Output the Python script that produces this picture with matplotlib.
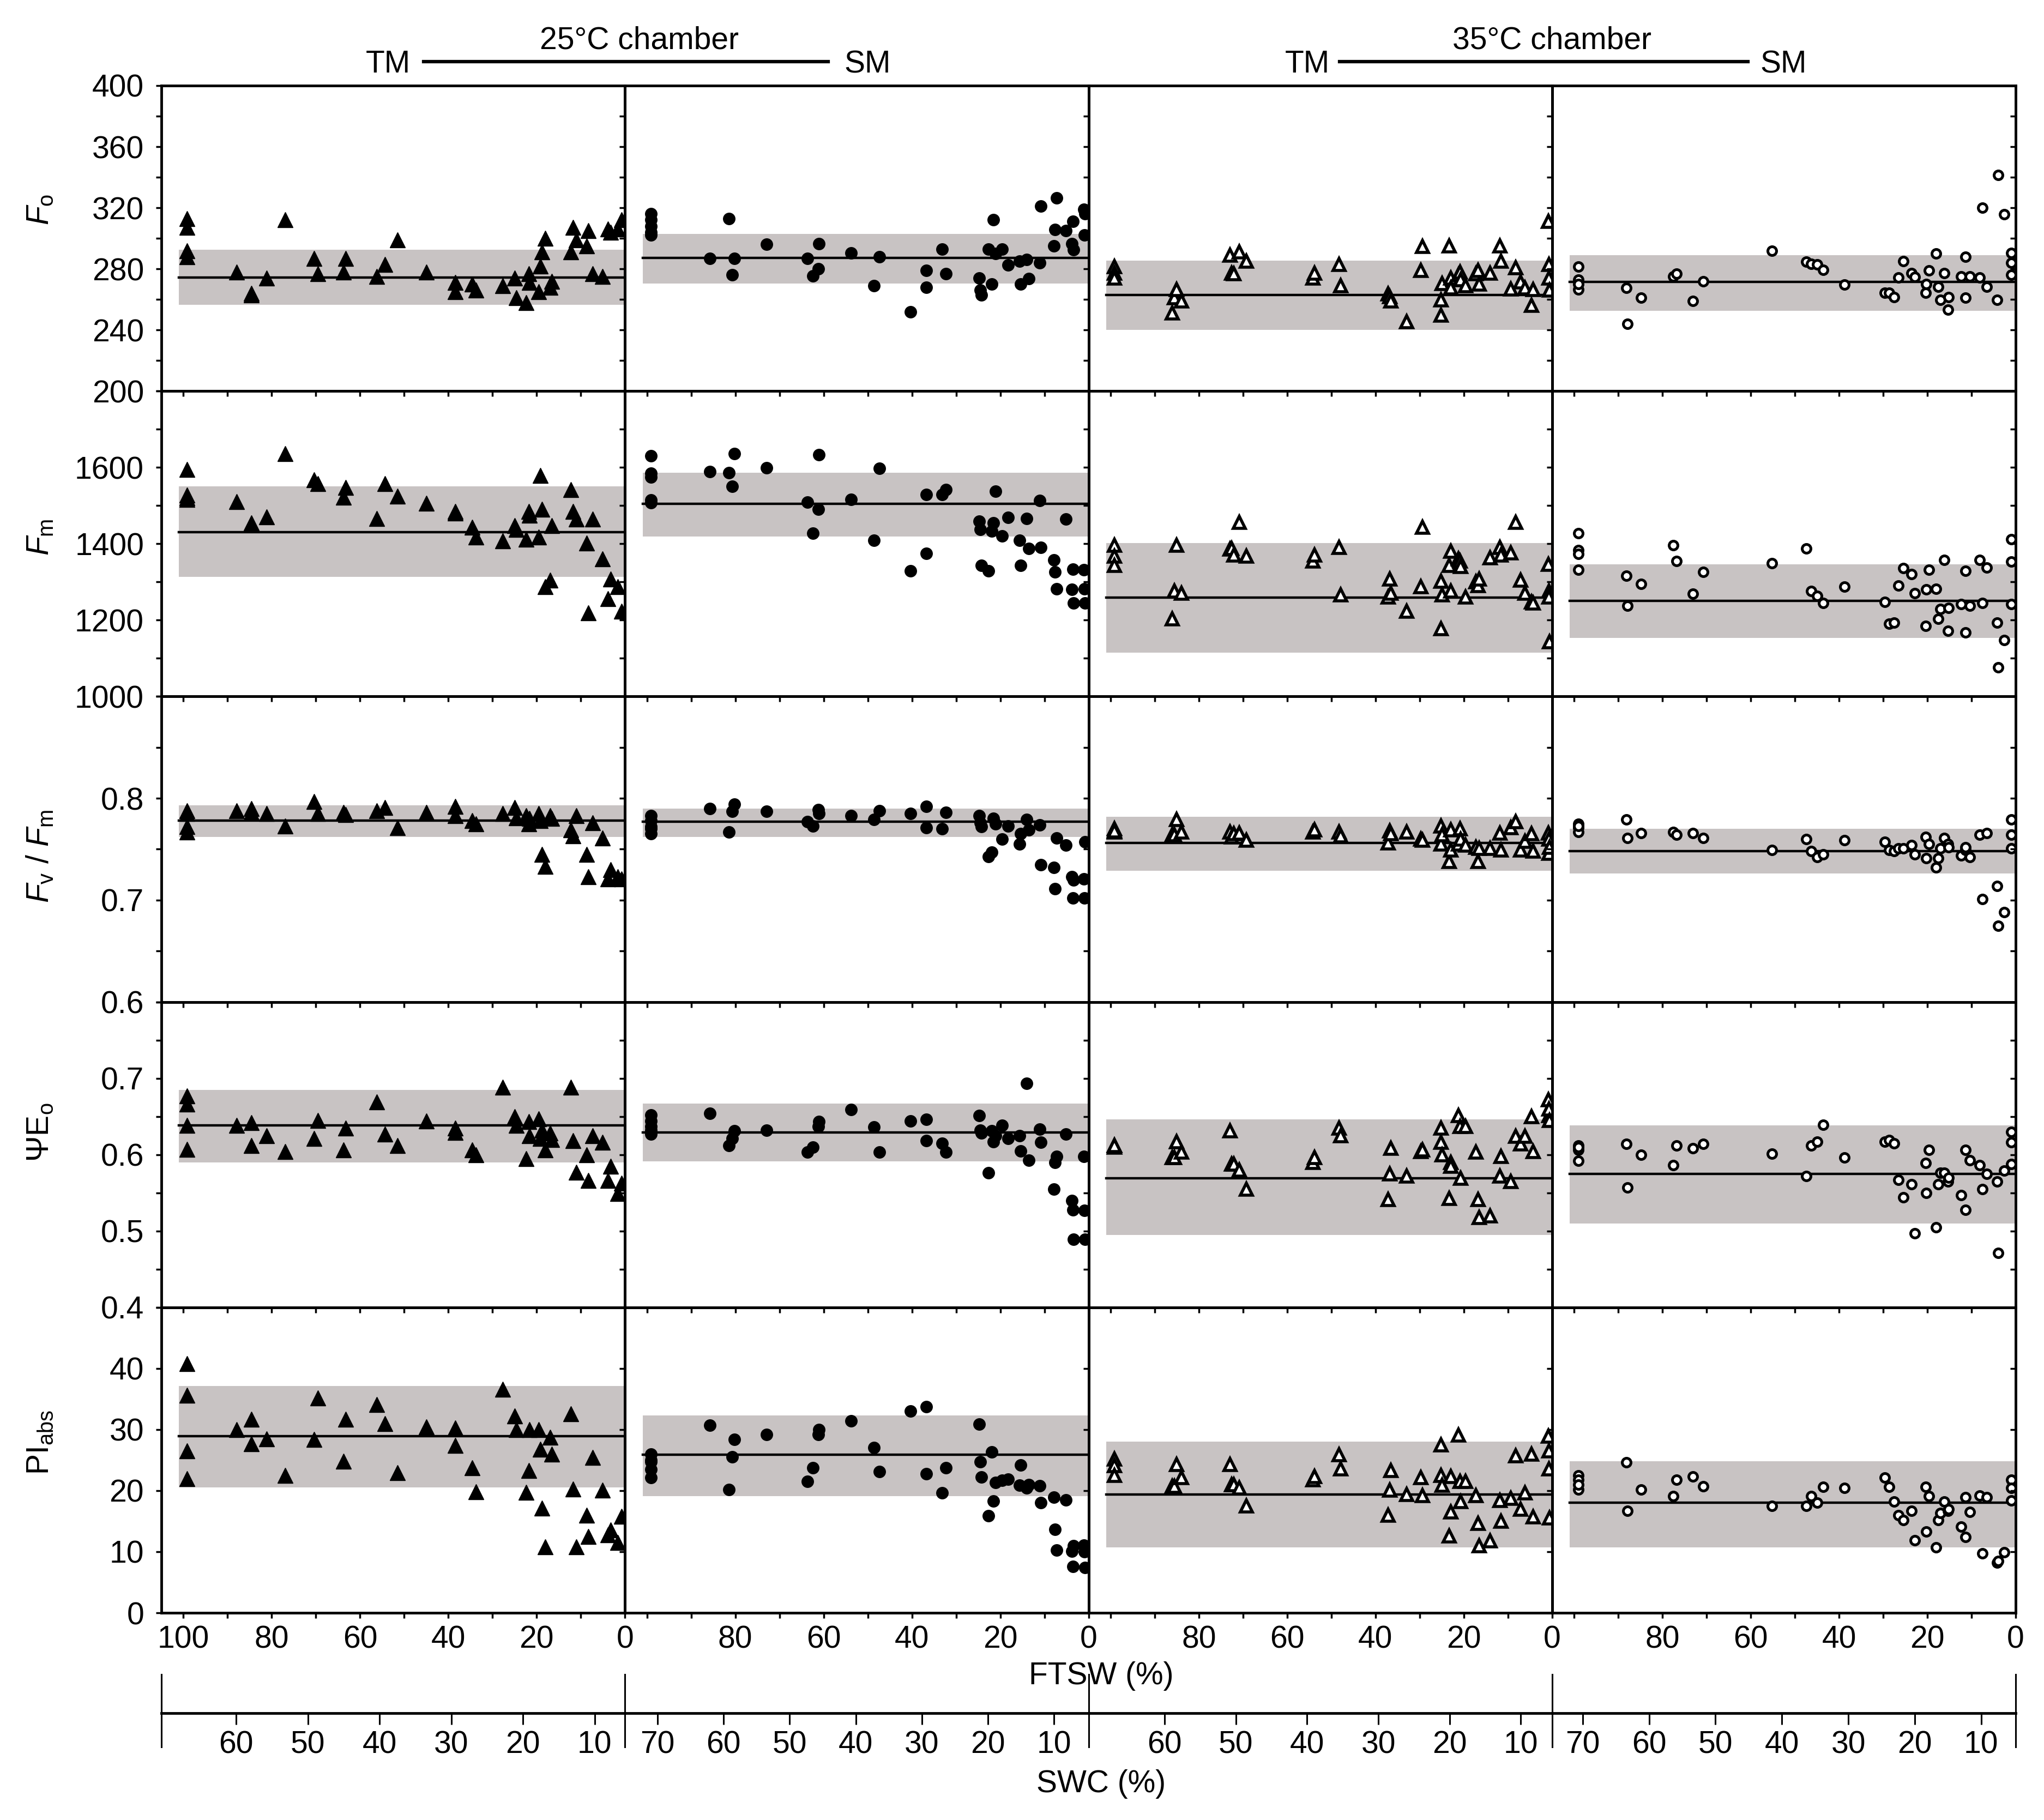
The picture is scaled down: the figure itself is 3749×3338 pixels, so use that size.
import numpy as np
import matplotlib
matplotlib.use('Agg')
import matplotlib.pyplot as plt
from matplotlib.ticker import MultipleLocator, FuncFormatter
from matplotlib.lines import Line2D

plt.rcParams['font.family'] = ['Liberation Sans', 'DejaVu Sans']
plt.rcParams['mathtext.fontset'] = 'custom'
plt.rcParams['mathtext.rm'] = 'Liberation Sans'
plt.rcParams['mathtext.it'] = 'Liberation Sans:italic'
plt.rcParams['mathtext.bf'] = 'Liberation Sans:bold'

# ---- data ----
# 25 C chamber, TM
ftsw_tm25 = [99.2, 99.2, 99.2, 99.2, 88, 84.6, 84.6, 81.2, 77, 70.4, 69.6, 63.8, 63.2, 56.2, 54.4, 51.5, 45,
             38.4, 38.4, 34.6, 33.8, 27.7, 25, 24.6, 22.4, 21.8, 21.6, 19.6, 19.2, 18.8, 18, 17, 16.6, 12.3,
             11.8, 11, 8.7, 8.3, 7.3, 5.1, 3.8, 3.2, 1.6, 0.8]
fo_tm25 = [313, 307, 292, 288, 278, 264, 263, 274, 312, 287, 277, 278, 287, 275, 283, 299, 278, 271, 265, 270,
           266, 269, 274, 261, 258, 277, 271, 265, 282, 291, 300, 268, 272, 291, 307, 299, 295, 305, 277, 275,
           306, 304, 306, 312]
fm_tm25 = [1594, 1527, 1516, 1520, 1511, 1451, 1455, 1471, 1636, 1568, 1558, 1522, 1548, 1466, 1558, 1525, 1506,
           1485, 1480, 1443, 1417, 1407, 1448, 1438, 1412, 1485, 1475, 1417, 1579, 1490, 1287, 1305, 1448, 1542,
           1485, 1464, 1402, 1219, 1464, 1360, 1256, 1308, 1287, 1224]
fvfm_tm25 = [0.788, 0.767, 0.785, 0.772, 0.788, 0.79, 0.786, 0.785, 0.773, 0.797, 0.785, 0.786, 0.784, 0.788,
             0.791, 0.771, 0.786, 0.792, 0.783, 0.778, 0.775, 0.785, 0.791, 0.781, 0.783, 0.775, 0.78, 0.785,
             0.778, 0.745, 0.733, 0.783, 0.78, 0.769, 0.763, 0.783, 0.745, 0.723, 0.776, 0.761, 0.721, 0.73,
             0.723, 0.721]
psi_tm25 = [0.677, 0.666, 0.638, 0.607, 0.638, 0.642, 0.612, 0.625, 0.604, 0.621, 0.645, 0.606, 0.635, 0.669,
            0.627, 0.612, 0.644, 0.635, 0.629, 0.606, 0.6, 0.688, 0.65, 0.638, 0.595, 0.643, 0.625, 0.647, 0.621,
            0.632, 0.606, 0.628, 0.62, 0.688, 0.618, 0.577, 0.6, 0.566, 0.625, 0.616, 0.566, 0.585, 0.549, 0.563]
pi_tm25 = [40.8, 35.6, 26.5, 22, 30, 31.7, 27.7, 28.5, 22.5, 28.4, 35.2, 24.8, 31.7, 34.1, 31, 22.9, 30.4, 30.3,
           27.4, 23.7, 19.8, 36.6, 32.2, 30, 19.7, 23.3, 30, 30, 26.8, 17.1, 10.8, 28.7, 26, 32.6, 20.3, 10.8,
           16, 12.5, 25.4, 20.1, 12.8, 13.6, 11.5, 15.8]

# 25 C chamber, SM
ftsw_sm25 = [99.1, 99.1, 99.1, 99.1, 99.1, 85.8, 81.4, 80.7, 80.2, 72.9, 63.7, 62.4, 61.2, 61.1, 53.8, 48.6,
             47.4, 40.3, 36.8, 36.8, 33.1, 32.3, 24.8, 24.5, 24.3, 22.6, 21.9, 21.5, 21.1, 19.6, 18.2, 15.6,
             15.4, 14, 13.5, 11, 10.8, 7.8, 7.6, 7.2, 5.1, 3.8, 3.5, 3.4, 1, 0.9, 0.8]
fo_sm25 = [316, 312, 308, 304, 302, 287, 313, 276, 287, 296, 287, 275.5, 280, 296.5, 290.5, 269, 288, 252, 279,
           268, 293, 277, 274, 266, 263, 293, 270, 312, 290, 293, 282.6, 285, 270, 286, 273.7, 284, 321, 295,
           305.6, 326.6, 305, 296.5, 311, 292.5, 319, 302, 316]
fm_sm25 = [1631, 1584, 1574, 1508, 1515, 1589, 1586, 1551, 1636, 1599, 1509, 1428, 1490, 1633, 1516, 1409, 1597,
           1329, 1529, 1375, 1529, 1542, 1459, 1438, 1344, 1329, 1433, 1454, 1537, 1420, 1469, 1409, 1344, 1466,
           1388, 1513, 1391, 1357, 1326, 1282, 1464, 1280, 1334, 1245, 1332, 1282, 1245]
fvfm_sm25 = [0.778, 0.765, 0.783, 0.772, 0.77, 0.79, 0.767, 0.787, 0.794, 0.787, 0.777, 0.773, 0.789, 0.785,
             0.783, 0.779, 0.788, 0.785, 0.792, 0.771, 0.77, 0.786, 0.783, 0.776, 0.772, 0.743, 0.747, 0.78,
             0.775, 0.76, 0.773, 0.755, 0.765, 0.779, 0.769, 0.774, 0.735, 0.732, 0.711, 0.761, 0.754, 0.723,
             0.702, 0.72, 0.721, 0.702, 0.757]
psi_sm25 = [0.652, 0.644, 0.637, 0.627, 0.632, 0.654, 0.612, 0.621, 0.631, 0.632, 0.603, 0.61, 0.637, 0.643,
            0.659, 0.636, 0.603, 0.644, 0.646, 0.618, 0.615, 0.603, 0.651, 0.632, 0.628, 0.576, 0.631, 0.617,
            0.625, 0.638, 0.621, 0.625, 0.605, 0.693, 0.593, 0.633, 0.616, 0.555, 0.59, 0.598, 0.627, 0.54,
            0.528, 0.489, 0.598, 0.527, 0.489]
pi_sm25 = [26, 24.7, 22.1, 25, 23.5, 30.7, 20.2, 25.5, 28.4, 29.2, 21.5, 23.7, 29.2, 30, 31.4, 27, 23.1, 33,
           33.7, 22.8, 19.6, 23.7, 30.9, 24.7, 22.2, 15.9, 26.3, 18.3, 21.3, 21.7, 21.9, 20.9, 24.2, 20.4, 21,
           20.8, 18, 18.9, 13.7, 10.3, 18.5, 10.1, 7.6, 11, 11.1, 10, 7.4]

# 35 C chamber, TM
ftsw_tm35 = [99.1, 99.1, 99.1, 86, 85.6, 85.1, 84, 73, 72.6, 72.1, 70.8, 69.3, 54.2, 53.8, 48.3, 47.9, 37.2,
             36.8, 36.5, 33, 29.7, 29.3, 25.2, 25.1, 24.9, 23.3, 22.9, 22.9, 21.2, 20.8, 20.7, 19.6, 17.2, 16.8,
             16.5, 14, 11.8, 11.6, 9.4, 8.2, 7.1, 6.1, 4.7, 4.3, 0.8, 0.7, 0.7, 0.6]
fo_tm35 = [281.5, 277.3, 274, 251, 261, 266.3, 259, 289, 277.3, 277, 291, 285, 274, 277.3, 283, 269, 263.7, 262,
           259, 245.4, 279, 294.6, 249.8, 259.7, 270.3, 295, 274, 267.6, 276, 278, 272.8, 269, 277, 279, 270,
           277.3, 295, 285, 267, 280.7, 271.6, 267.6, 256, 266.4, 311, 283, 274, 266]
fm_tm35 = [1396, 1367, 1344, 1203, 1276, 1396, 1271, 1386, 1388, 1370, 1456, 1367, 1355, 1370, 1391, 1266, 1261,
           1308, 1271, 1224, 1287, 1443, 1177, 1302, 1266, 1344, 1381, 1276, 1360, 1355, 1340, 1261, 1300, 1290,
           1308, 1363, 1391, 1370, 1376, 1456, 1305, 1271, 1248, 1245, 1346, 1276, 1261, 1144]
fvfm_tm35 = [0.77, 0.767, 0.768, 0.764, 0.764, 0.779, 0.767, 0.767, 0.762, 0.765, 0.766, 0.759, 0.767, 0.769,
             0.767, 0.763, 0.756, 0.768, 0.765, 0.767, 0.76, 0.759, 0.755, 0.773, 0.764, 0.738, 0.769, 0.749,
             0.755, 0.77, 0.76, 0.754, 0.752, 0.738, 0.751, 0.751, 0.766, 0.749, 0.771, 0.777, 0.749, 0.758,
             0.765, 0.748, 0.766, 0.746, 0.76, 0.752]
psi_tm35 = [0.612, 0.61, 0.612, 0.596, 0.596, 0.617, 0.603, 0.631, 0.588, 0.588, 0.58, 0.555, 0.59, 0.596,
            0.635, 0.625, 0.541, 0.575, 0.608, 0.572, 0.604, 0.606, 0.616, 0.635, 0.6, 0.543, 0.59, 0.585, 0.651,
            0.637, 0.569, 0.637, 0.603, 0.541, 0.518, 0.52, 0.572, 0.598, 0.565, 0.624, 0.614, 0.624, 0.65,
            0.604, 0.672, 0.651, 0.66, 0.645]
pi_tm35 = [25.2, 24.1, 22.5, 20.7, 20.7, 24.3, 22.1, 24.3, 21, 21, 20.4, 17.5, 21.8, 22.3, 25.9, 23.6, 16, 20.1,
           23.3, 19.4, 22.1, 19.2, 22.5, 27.5, 20.9, 12.6, 22.3, 16.5, 29.1, 21.5, 18.2, 21.5, 19.2, 14.6, 11,
           11.8, 18.4, 15, 18.7, 25.7, 17, 19.6, 26, 15.7, 28.9, 26.5, 23.6, 15.5]

# 35 C chamber, SM
ftsw_sm35 = [99, 99, 99, 99, 88.2, 87.9, 84.9, 77.6, 76.8, 73.1, 70.8, 55.2, 47.4, 46.3, 44.9, 43.6, 38.8, 29.6,
             28.6, 27.5, 26.5, 25.5, 23.6, 22.8, 20.4, 20.3, 19.6, 18, 17.5, 17, 16.2, 15.3, 15.2, 12.4, 11.3,
             11.3, 10.4, 8.1, 7.5, 6.6, 4.2, 3.9, 2.6, 1, 1, 1]
fo_sm35 = [281.5, 272.9, 266.3, 270, 267.6, 244, 261, 275, 276.8, 259, 272, 292, 284.7, 283.4, 283, 279.4, 269.7,
           264.5, 264.5, 261.6, 274.2, 285.2, 277.3, 274.7, 264.2, 270, 279, 290, 268.4, 259.8, 277.3, 253.2,
           261.6, 275, 287.8, 261, 275, 274.2, 320, 268.4, 259.8, 341.5, 315.6, 290.4, 284, 276]
fm_sm35 = [1427.6, 1384, 1373, 1332, 1316, 1238, 1295, 1396, 1355, 1269, 1326.5, 1349, 1388, 1276, 1264, 1245,
           1287, 1248, 1190, 1193, 1290, 1336, 1320, 1271, 1185, 1280, 1332, 1282, 1203, 1229, 1357, 1172, 1232,
           1242, 1329, 1167, 1238, 1357, 1245, 1337, 1193, 1076, 1148, 1412, 1353, 1242]
fvfm_sm35 = [0.775, 0.771, 0.767, 0.773, 0.779, 0.761, 0.766, 0.767, 0.764, 0.766, 0.761, 0.749, 0.76, 0.748,
             0.742, 0.745, 0.759, 0.757, 0.749, 0.748, 0.751, 0.751, 0.754, 0.745, 0.762, 0.741, 0.755, 0.732,
             0.741, 0.751, 0.761, 0.755, 0.752, 0.744, 0.749, 0.752, 0.742, 0.764, 0.701, 0.766, 0.714, 0.675,
             0.688, 0.779, 0.764, 0.751]
psi_sm35 = [0.612, 0.606, 0.592, 0.61, 0.614, 0.557, 0.6, 0.586, 0.612, 0.608, 0.614, 0.601, 0.572, 0.612,
            0.617, 0.639, 0.596, 0.617, 0.619, 0.615, 0.567, 0.544, 0.561, 0.497, 0.589, 0.55, 0.606, 0.505,
            0.561, 0.576, 0.576, 0.565, 0.57, 0.547, 0.606, 0.528, 0.593, 0.586, 0.555, 0.575, 0.565, 0.471,
            0.579, 0.63, 0.616, 0.588]
pi_sm35 = [22.5, 21.8, 20.2, 21, 24.6, 16.7, 20.2, 19.1, 21.8, 22.3, 20.7, 17.5, 17.5, 19.1, 18, 20.6, 20.4,
           22.1, 20.6, 18.2, 16, 15.2, 16.7, 11.9, 20.6, 13.3, 19.1, 10.7, 15.2, 16.3, 18.2, 16.7, 17, 14.1,
           18.9, 12.4, 16.5, 19.2, 9.7, 18.9, 8.2, 8.5, 9.9, 21.8, 20.4, 18.4]

# mean line and grey band (per panel column: TM25, SM25, TM35, SM35)
fo_mean = [274.5, 287.3, 262.9, 271.6]
fo_lo = [256.5, 270.3, 240, 252.7]
fo_hi = [292.5, 303, 285.5, 289]
fm_mean = [1431, 1504, 1259, 1250]
fm_lo = [1313, 1419, 1115, 1154]
fm_hi = [1550, 1586, 1402, 1346]
fvfm_mean = [0.778, 0.777, 0.756, 0.748]
fvfm_lo = [0.762, 0.762, 0.729, 0.726]
fvfm_hi = [0.793, 0.790, 0.782, 0.770]
psi_mean = [0.638, 0.629, 0.569, 0.575]
psi_lo = [0.590, 0.591, 0.495, 0.510]
psi_hi = [0.685, 0.667, 0.646, 0.638]
pi_mean = [28.9, 25.9, 19.4, 18.0]
pi_lo = [20.5, 19.1, 10.7, 10.7]
pi_hi = [37.1, 32.3, 28.0, 24.8]

# SWC scale under each column
swc_range = [(70.45, 5.76), (74.9, 4.8), (70.7, 5.6), (74.6, 4.8)]
swc_ticks = [[60, 50, 40, 30, 20, 10], [70, 60, 50, 40, 30, 20, 10],
             [60, 50, 40, 30, 20, 10], [70, 60, 50, 40, 30, 20, 10]]

# ---- layout (pixels of the 3749 x 3338 picture) ----
W, H = 3749, 3338
fig = plt.figure(figsize=(W / 100, H / 100), dpi=100)
fig.patch.set_facecolor('white')

def fx(px):
    return px / W

def fy(py):
    return 1 - py / H

left0, right0, top0, bot0 = 296, 3697, 157, 2958
colw = (right0 - left0) / 4
rowh = (bot0 - top0) / 5
FS = 41
band_col = '#c8c3c3'

columns = [
    dict(x=ftsw_tm25, ys=[fo_tm25, fm_tm25, fvfm_tm25, psi_tm25, pi_tm25], marker='^', ms=20, mfc='k', mew=1),
    dict(x=ftsw_sm25, ys=[fo_sm25, fm_sm25, fvfm_sm25, psi_sm25, pi_sm25], marker='o', ms=15.5, mfc='k', mew=1),
    dict(x=ftsw_tm35, ys=[fo_tm35, fm_tm35, fvfm_tm35, psi_tm35, pi_tm35], marker='^', ms=15.5, mfc='white', mew=4),
    dict(x=ftsw_sm35, ys=[fo_sm35, fm_sm35, fvfm_sm35, psi_sm35, pi_sm35], marker='o', ms=11.5, mfc='white', mew=3.6),
]

rows = [
    dict(ylim=(200, 400), step=20, labels=[200, 240, 280, 320, 360, 400], fmt='%d',
         mean=fo_mean, lo=fo_lo, hi=fo_hi, name=r'$\mathit{F}_\mathrm{o}$', ly=384),
    dict(ylim=(1000, 1800), step=100, labels=[1000, 1200, 1400, 1600], fmt='%d',
         mean=fm_mean, lo=fm_lo, hi=fm_hi, name=r'$\mathit{F}_\mathrm{m}$', ly=985),
    dict(ylim=(0.6, 0.9), step=0.05, labels=[0.6, 0.7, 0.8], fmt='%.1f',
         mean=fvfm_mean, lo=fvfm_lo, hi=fvfm_hi,
         name=r'$\mathit{F}_\mathrm{v}\ /\ \mathit{F}_\mathrm{m}$', ly=1570),
    dict(ylim=(0.4, 0.8), step=0.05, labels=[0.4, 0.5, 0.6, 0.7], fmt='%.1f',
         mean=psi_mean, lo=psi_lo, hi=psi_hi, name=r'$\Psi\mathrm{E}_\mathrm{o}$', ly=2077),
    dict(ylim=(0, 50), step=10, labels=[0, 10, 20, 30, 40], fmt='%d',
         mean=pi_mean, lo=pi_lo, hi=pi_hi, name=r'$\mathrm{PI}_\mathrm{abs}$', ly=2645),
]

def y_formatter(labels, fmt):
    def f(v, pos):
        for lab in labels:
            if np.isclose(v, lab):
                return fmt % lab
        return ''
    return FuncFormatter(f)

def x_formatter(first_col):
    def f(v, pos):
        iv = int(round(v))
        if iv % 20 != 0:
            return ''
        if iv == 100 and not first_col:
            return ''
        return str(iv)
    return FuncFormatter(f)

for r, row in enumerate(rows):
    for c, col in enumerate(columns):
        ax = fig.add_axes([fx(left0 + c * colw), fy(top0 + (r + 1) * rowh), colw / W, rowh / H])
        ax.set_facecolor('none')
        ax.set_xlim(105, 0)
        ax.set_ylim(*row['ylim'])
        for s in ax.spines.values():
            s.set_linewidth(3.5)

        ax.fill_between([101, 0], row['lo'][c], row['hi'][c], color=band_col, lw=0, zorder=1)
        ax.plot([101, 0], [row['mean'][c], row['mean'][c]], color='k', lw=3.2, zorder=2)
        ax.plot(col['x'], col['ys'][r], linestyle='none', marker=col['marker'], ms=col['ms'],
                mfc=col['mfc'], mec='k', mew=col['mew'], zorder=3)

        ax.xaxis.set_major_locator(MultipleLocator(10))
        ax.yaxis.set_major_locator(MultipleLocator(row['step']))
        ax.tick_params(axis='x', direction='out', length=7, width=2.5, top=False,
                       labelsize=FS, pad=9)
        ax.tick_params(axis='y', direction='out', length=7, width=2.5, right=False,
                       labelsize=FS, pad=16)
        if r == len(rows) - 1:
            ax.xaxis.set_major_formatter(x_formatter(c == 0))
        else:
            ax.set_xticklabels([])
        if c == 0:
            ax.yaxis.set_major_formatter(y_formatter(row['labels'], row['fmt']))
        else:
            ax.set_yticklabels([])

        if c == len(columns) - 1:
            ax2 = ax.twinx()
            ax2.set_ylim(*row['ylim'])
            ax2.yaxis.set_major_locator(MultipleLocator(row['step']))
            ax2.tick_params(axis='y', direction='in', length=7, width=2.5, labelright=False)
            for s in ax2.spines.values():
                s.set_visible(False)

    fig.text(fx(74), fy(row['ly']), row['name'], rotation=90, ha='center', va='center', fontsize=FS)

# SWC scale
swc_top, swc_bot, swc_line = 3071, 3204, 3142
for c in range(4):
    sx = fig.add_axes([fx(left0 + c * colw), fy(swc_bot), colw / W, (swc_bot - swc_top) / H])
    sx.set_facecolor('none')
    sx.set_xlim(*swc_range[c])
    sx.set_ylim(0, 1)
    sx.spines['top'].set_visible(False)
    sx.spines['right'].set_visible(c == 3)
    sx.spines['left'].set_linewidth(2.2)
    sx.spines['right'].set_linewidth(2.2)
    sx.spines['bottom'].set_linewidth(3.5)
    sx.spines['bottom'].set_position(('axes', (swc_bot - swc_line) / (swc_bot - swc_top)))
    sx.set_yticks([])
    sx.set_xticks(swc_ticks[c])
    sx.set_xticklabels([str(t) for t in swc_ticks[c]])
    sx.tick_params(axis='x', direction='out', length=15, width=2.2, labelsize=FS, pad=8)

fig.text(fx(2020), fy(3074), 'FTSW (%)', ha='center', va='center', fontsize=FS)
fig.text(fx(2020), fy(3272), 'SWC (%)', ha='center', va='center', fontsize=FS)

# chamber headers
headers = [('25\u00b0C chamber', 1172, 712, 777, 1519, 1591),
           ('35\u00b0C chamber', 2847, 2398, 2457, 3206, 3271)]
for title, tx, tmx, l0, l1, smx in headers:
    fig.text(fx(tx), fy(90), title, ha='center', va='baseline', fontsize=FS)
    fig.text(fx(tmx), fy(133), 'TM', ha='center', va='baseline', fontsize=FS)
    fig.text(fx(smx), fy(133), 'SM', ha='center', va='baseline', fontsize=FS)
    fig.add_artist(Line2D([fx(l0), fx(l1)], [fy(113), fy(113)], color='k', lw=4.5))

fig.savefig('out.png', dpi=100)
